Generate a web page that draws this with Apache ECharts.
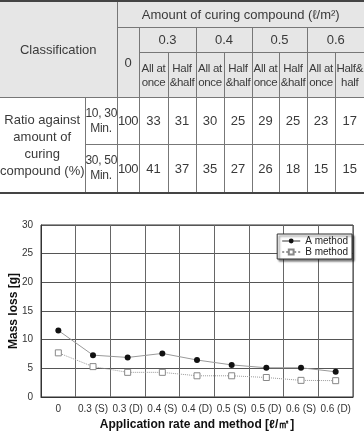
<!DOCTYPE html>
<html>
<head>
    <meta charset="utf-8">
    <title></title>
    <script src="https://cdn.jsdelivr.net/npm/echarts@6/dist/echarts.min.js"></script>
    <style>
        html, body { margin: 0; padding: 0; background: #fff; }
        #wrap { position: relative; width: 364px; height: 431px; overflow: hidden; }
        #main { position: absolute; left: 0; top: 0; width: 364px; height: 431px; }
        #tbl {
            position: absolute; left: 0; top: 0; width: 364px;
            border-collapse: collapse; table-layout: fixed;
            font-family: "Liberation Sans", Arial, sans-serif; color: #3a3a3a;
            border-top: 2px solid #444; border-bottom: 2px solid #444;
        }
        #tbl td {
            padding: 0; text-align: center; vertical-align: middle;
            border: 1px solid #777; font-size: 13px; overflow: visible; white-space: nowrap;
        }
        #tbl tr td:first-child { border-left: none; }
        #tbl tr td:last-child { border-right: none; }
        #tbl .hd { background: #e6e6e6; }
        #tbl .sub { font-size: 11.5px; line-height: 14px; letter-spacing: -0.3px; }
        #tbl .cls { font-size: 13px; }
        #tbl .ratio { line-height: 17px; font-size: 13px; }
        #tbl .tm { font-size: 12px; line-height: 15px; letter-spacing: -0.3px; }
    </style>
</head>
<body>
<div id="wrap">
    <div id="main"></div>
    <table id="tbl"></table>
</div>
<script type="text/javascript">
    // table data
    var rateLabels = ['0.3', '0.4', '0.5', '0.6'];
    var methodLabels = ['All at<br>once', 'Half<br>&amp;half', 'All at<br>once', 'Half<br>&amp;half',
        'All at<br>once', 'Half<br>&amp;half', 'All at<br>once', 'Half&amp;<br>half'];
    var timeLabels = ['10, 30<br>Min.', '30, 50<br>Min.'];
    var ratioRow1 = [100, 33, 31, 30, 25, 29, 25, 23, 17];
    var ratioRow2 = [100, 41, 37, 35, 27, 26, 18, 15, 15];

    // chart data
    var categories = ['0', '0.3 (S)', '0.3 (D)', '0.4 (S)', '0.4 (D)', '0.5 (S)', '0.5 (D)', '0.6 (S)', '0.6 (D)'];
    var methodA = [11.6, 7.3, 6.9, 7.6, 6.45, 5.6, 5.1, 5.1, 4.4];
    var methodB = [7.7, 5.3, 4.3, 4.3, 3.7, 3.7, 3.4, 2.9, 2.85];

    function buildTable() {
        var widths = [85, 32, 22, 29, 28, 28, 28, 27, 28, 28, 29];
        var h = '<colgroup>';
        widths.forEach(function (w) { h += '<col style="width:' + w + 'px">'; });
        h += '</colgroup>';
        h += '<tr style="height:26px"><td class="hd cls" rowspan="3" colspan="2">Classification</td>' +
            '<td class="hd" colspan="9">Amount of curing compound (ℓ/m²)</td></tr>';
        h += '<tr style="height:25px"><td class="hd" rowspan="2">0</td>';
        rateLabels.forEach(function (r) { h += '<td class="hd" colspan="2">' + r + '</td>'; });
        h += '</tr><tr style="height:45px">';
        methodLabels.forEach(function (m) { h += '<td class="hd sub">' + m + '</td>'; });
        h += '</tr>';
        [ratioRow1, ratioRow2].forEach(function (row, i) {
            h += '<tr style="height:' + (i === 0 ? 47 : 49) + 'px">';
            if (i === 0) {
                h += '<td class="ratio" rowspan="2">Ratio against<br>amount of<br>curing<br>compound (%)</td>';
            }
            h += '<td class="tm">' + timeLabels[i] + '</td>';
            row.forEach(function (v, j) {
                h += '<td' + (j === 0 ? ' style="letter-spacing:-0.5px"' : '') + '>' + v + '</td>';
            });
            h += '</tr>';
        });
        document.getElementById('tbl').innerHTML = h;
    }
    buildTable();

    var chart = echarts.init(document.getElementById('main'));
    var option = {
        animation: false,
        grid: {
            left: 41, right: 11, top: 225, bottom: 34,
            outerBoundsMode: 'none',
            show: true, borderColor: '#333', borderWidth: 1
        },
        legend: {
            orient: 'vertical',
            right: 12, top: 234,
            padding: [2, 4, 2, 4],
            itemGap: 1,
            itemWidth: 18, itemHeight: 6,
            backgroundColor: '#fff',
            borderColor: '#333', borderWidth: 1,
            shadowColor: 'rgba(0,0,0,0.5)', shadowBlur: 2, shadowOffsetX: 2, shadowOffsetY: 2,
            textStyle: { fontSize: 10, lineHeight: 10, color: '#222', fontFamily: 'Liberation Sans' },
            data: ['A method', 'B method']
        },
        xAxis: {
            type: 'category',
            data: categories,
            boundaryGap: true,
            name: 'Application rate and method [ℓ/㎡]',
            nameLocation: 'middle',
            nameGap: 22,
            nameMoveOverlap: false,
            nameTextStyle: { fontSize: 12, fontWeight: 'bold', color: '#111', fontFamily: 'Liberation Sans' },
            axisLine: { lineStyle: { color: '#333' } },
            axisTick: { show: false },
            axisLabel: { fontSize: 10, color: '#333', margin: 7, interval: 0, fontFamily: 'Liberation Sans' },
            splitLine: { show: true, lineStyle: { color: '#666', width: 1 } }
        },
        yAxis: {
            type: 'value',
            min: 0, max: 30, interval: 5,
            name: 'Mass loss [g]',
            nameLocation: 'middle',
            nameGap: 21,
            nameMoveOverlap: false,
            nameTextStyle: { fontSize: 12, fontWeight: 'bold', color: '#111', fontFamily: 'Liberation Sans' },
            axisLine: { show: true, lineStyle: { color: '#333' } },
            axisTick: { show: false },
            axisLabel: { fontSize: 10, color: '#333', margin: 8, fontFamily: 'Liberation Sans' },
            splitLine: { lineStyle: { color: '#555', width: 1 } }
        },
        series: [
            {
                name: 'A method',
                type: 'line',
                data: methodA,
                symbol: 'circle',
                symbolSize: 6,
                lineStyle: { color: '#999', width: 1 },
                itemStyle: { color: '#111' }
            },
            {
                name: 'B method',
                type: 'line',
                data: methodB,
                symbol: 'rect',
                symbolSize: 6,
                lineStyle: { color: '#999', width: 1, type: 'dotted' },
                itemStyle: { color: '#fff', borderColor: '#888', borderWidth: 1 }
            }
        ]
    };
    chart.setOption(option);
</script>
</body>
</html>
